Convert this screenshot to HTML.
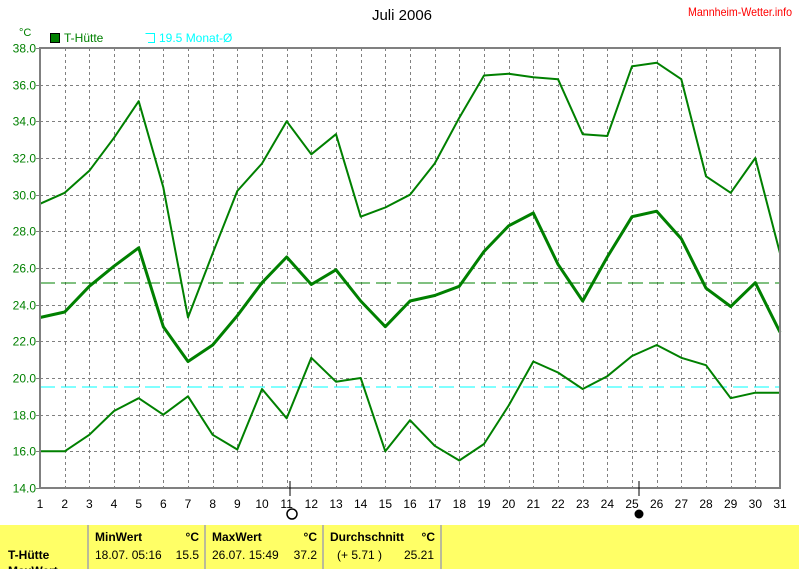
<!DOCTYPE html>
<html><head><meta charset="utf-8"><style>
body{margin:0;width:800px;height:569px;background:#fff;overflow:hidden;font-family:"Liberation Sans",sans-serif;}
svg{position:absolute;left:0;top:0}
text{font-family:"Liberation Sans",sans-serif}
</style></head><body>
<svg id="s" width="800" height="569" xmlns="http://www.w3.org/2000/svg">
<text x="402" y="20" font-size="15" text-anchor="middle" fill="#000">Juli 2006</text>
<text x="688" y="16" font-size="12" fill="#ff0000" textLength="104" lengthAdjust="spacingAndGlyphs">Mannheim-Wetter.info</text>
<text x="19" y="36" font-size="11" fill="#008000">°C</text>
<rect x="50.5" y="33.5" width="9" height="9" fill="#008000" stroke="#000"/>
<text x="64" y="42" font-size="12" fill="#008000">T-Hütte</text>
<path d="M145.5 33.5 H154.5 V42.5 H148" fill="none" stroke="#00ffff"/>
<text x="159" y="42" font-size="12" fill="#00ffff">19.5 Monat-Ø</text>
<g id="grid" stroke="#808080" stroke-dasharray="3,3" stroke-width="1"></g>
<g id="yl" font-size="12" fill="#008000" text-anchor="end"></g>
<g id="xl" font-size="12" fill="#000" text-anchor="middle"></g>
<line x1="40" y1="283" x2="780" y2="283" stroke="#008000" stroke-dasharray="15,6"/>
<line x1="40" y1="387" x2="780" y2="387" stroke="#00ffff" stroke-dasharray="15,6"/>
<g id="lines" fill="none" stroke="#008000" stroke-linejoin="round"></g>
<path d="M40 48 H780 V488 H40 Z" fill="none" stroke="#808080" stroke-width="2"/>
<line x1="290" y1="481" x2="290" y2="496" stroke="#000"/>
<circle cx="292" cy="514" r="5" fill="#fff" stroke="#000" stroke-width="1.5"/>
<line x1="639" y1="481" x2="639" y2="496" stroke="#000"/>
<circle cx="639" cy="514" r="4.5" fill="#000"/>
<rect x="0" y="525" width="799" height="44" fill="#ffff66"/>
<g stroke="#bbbb99" stroke-width="2"><line x1="88" y1="525" x2="88" y2="569"/><line x1="205" y1="525" x2="205" y2="569"/><line x1="323" y1="525" x2="323" y2="569"/><line x1="441" y1="525" x2="441" y2="569"/></g>
<g font-size="12" fill="#000">
<text x="95" y="541" font-weight="bold">MinWert</text><text x="199" y="541" font-weight="bold" text-anchor="end">°C</text>
<text x="212" y="541" font-weight="bold">MaxWert</text><text x="317" y="541" font-weight="bold" text-anchor="end">°C</text>
<text x="330" y="541" font-weight="bold">Durchschnitt</text><text x="435" y="541" font-weight="bold" text-anchor="end">°C</text>
<text x="8" y="559" font-weight="bold">T-Hütte</text>
<text x="95" y="559">18.07.  05:16</text><text x="199" y="559" text-anchor="end">15.5</text>
<text x="212" y="559">26.07.  15:49</text><text x="317" y="559" text-anchor="end">37.2</text>
<text x="337" y="559">(+ 5.71 )</text><text x="434" y="559" text-anchor="end">25.21</text>
<text x="8" y="575" font-weight="bold">MaxWert</text>
</g>
</svg>
<script>
var NS="http://www.w3.org/2000/svg";
function X(d){return 40+(d-1)*740/30}
function Y(v){return 48+(38-v)*440/24}
var g=document.getElementById('grid'),yl=document.getElementById('yl'),xl=document.getElementById('xl');
function el(p,t,a,txt){var e=document.createElementNS(NS,t);for(var k in a)e.setAttribute(k,a[k]);if(txt)e.textContent=txt;p.appendChild(e);}
for(var d=2;d<=30;d++){var x=Math.round(X(d))+.5;el(g,'line',{x1:x,y1:48,x2:x,y2:488});}
for(var d=1;d<=31;d++){el(xl,'text',{x:X(d),y:508},''+d);}
for(var v=14;v<=38;v+=2){var y=Math.round(Y(v))+.5;if(v>14&&v<38)el(g,'line',{x1:40,y1:y,x2:780,y2:y});el(yl,'text',{x:36,y:y+4},v.toFixed(1));el(g,'line',{x1:36,y1:y,x2:40,y2:y,'stroke-dasharray':'none'});}
var mx=[29.5,30.1,31.3,33.1,35.1,30.4,23.3,26.8,30.2,31.7,34.0,32.2,33.3,28.8,29.3,30.0,31.7,34.2,36.5,36.6,36.4,36.3,33.3,33.2,37.0,37.2,36.3,31.0,30.1,32.0,26.8];
var av=[23.3,23.6,25.0,26.1,27.1,22.8,20.9,21.8,23.4,25.2,26.6,25.1,25.9,24.2,22.8,24.2,24.5,25.0,26.9,28.3,29.0,26.2,24.2,26.6,28.8,29.1,27.6,24.9,23.9,25.2,22.5];
var mn=[16.0,16.0,16.9,18.2,18.9,18.0,19.0,16.9,16.1,19.4,17.8,21.1,19.8,20.0,16.0,17.7,16.3,15.5,16.4,18.5,20.9,20.3,19.4,20.1,21.2,21.8,21.1,20.7,18.9,19.2,19.2];
var L=document.getElementById('lines');
[[mx,2],[av,3],[mn,2]].forEach(function(s){el(L,'polyline',{points:s[0].map(function(v,i){return X(i+1).toFixed(1)+','+Y(v).toFixed(1)}).join(' '),'stroke-width':s[1]});});
</script>
</body></html>
